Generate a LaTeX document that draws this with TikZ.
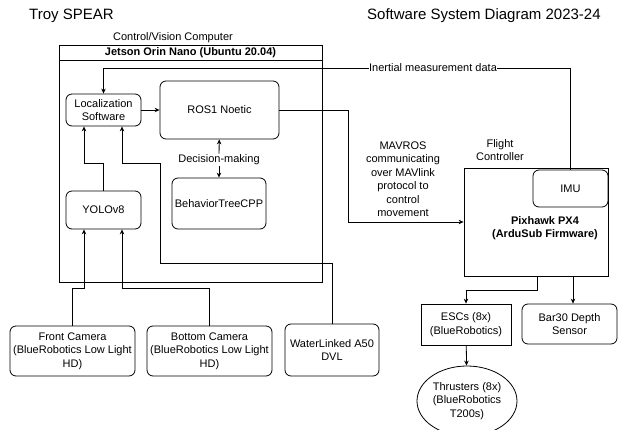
\documentclass[tikz,border=0pt]{standalone}
\usepackage{fontspec}
\setmainfont{Liberation Sans}
\usetikzlibrary{arrows.meta,shapes.geometric}
\tikzset{
  txt/.style={font=\fontsize{11}{13.5}\selectfont, align=center, inner sep=1pt},
  box/.style={txt, draw, line width=0.8pt, inner sep=0pt},
  roundbox/.style={box, rounded corners=6pt},
  arr/.style={-{Stealth[length=5pt,width=4.5pt]}, line width=0.8pt},
  wire/.style={line width=0.8pt}
}
\begin{document}
\begin{tikzpicture}[x=1pt,y=-1pt]
  \useasboundingbox (0,0) rectangle (618,430);

  \node[anchor=west, font=\fontsize{15}{18}\selectfont, inner sep=0pt] (troy) at (29,16) {Troy SPEAR};
  \node[anchor=west, font=\fontsize{15}{18}\selectfont, inner sep=0pt] (title) at (367,16) {Software System Diagram 2023-24};

  \node[txt] (cvc) at (173,38) {Control/Vision Computer};
  \node[box, minimum width=263, minimum height=237] (jetsonbox) at (190.5,163.5) {};
  \node[box, minimum width=263, minimum height=15, font=\fontsize{11}{13.5}\selectfont\bfseries] (jetson) at (190.5,52.5) {Jetson Orin Nano (Ubuntu 20.04)};

  \node[roundbox, minimum width=75, minimum height=32] (loc) at (103.5,110) {Localization\\Software};
  \node[roundbox, minimum width=119, minimum height=58] (ros) at (219.5,110) {ROS1 Noetic};
  \node[txt, fill=white] (decision) at (219,160) {Decision-making};
  \node[roundbox, minimum width=94, minimum height=51] (bt) at (219,203.5) {BehaviorTreeCPP};
  \node[roundbox, minimum width=75, minimum height=38] (yolo) at (103.5,210) {YOLOv8};

  \node[roundbox, minimum width=125, minimum height=50] (front) at (72.5,351) {Front Camera\\(BlueRobotics Low Light\\HD)};
  \node[roundbox, minimum width=125, minimum height=50] (bottom) at (209.5,351) {Bottom Camera\\(BlueRobotics Low Light\\HD)};
  \node[roundbox, minimum width=94, minimum height=52] (dvl) at (332,350) {WaterLinked A50\\DVL};

  \node[txt] (fc) at (500,150) {Flight\\Controller};
  \node[box, minimum width=144, minimum height=108] (px) at (536,222) {};
  \node[txt, font=\fontsize{11}{13.5}\selectfont\bfseries] (pxtext) at (545,228) {Pixhawk PX4\\(ArduSub Firmware)};
  \node[roundbox, minimum width=75, minimum height=37] (imu) at (570.5,188.5) {IMU};

  \node[box, minimum width=90, minimum height=41] (esc) at (466,324.5) {ESCs (8x)\\(BlueRobotics)};
  \node[roundbox, minimum width=95, minimum height=40] (bar) at (569.5,324) {Bar30 Depth\\Sensor};
  \node[box, ellipse, minimum width=100, minimum height=70] (thr) at (467,401) {Thrusters (8x)\\(BlueRobotics\\T200s)};

  \draw[arr] (loc) -- (ros);
  \draw[arr] (decision) -- (ros);
  \draw[arr] (decision) -- (bt);
  \draw[arr] (yolo.north) -- (103.5,163) -- (84,163) -- ([xshift=-19.5]loc.south);
  \draw[arr] (dvl.north) -- (332,263) -- (160,263) -- (160,163) -- (122,163) -- ([xshift=18.5]loc.south);
  \draw[arr] (front.north) -- (72.5,288) -- (84,288) -- ([xshift=-19.5]yolo.south);
  \draw[arr] (bottom.north) -- (209.5,288) -- (122,288) -- ([xshift=18.5]yolo.south);

  \draw[arr] (imu.north) -- (570.5,68) -- (103.5,68) -- (loc.north);
  \node[txt, fill=white, inner sep=0.5pt] (imulabel) at (433,68) {Inertial measurement data};

  \draw[arr] (ros.east) -- (348,110) -- (348,222) -- (px.west);
  \node[txt] (mavros) at (403,179) {MAVROS\\communicating\\over MAVlink\\protocol to\\control\\movement};

  \draw[arr] (537,276) -- (537,290) -- (466,290) -- (esc.north);
  \draw[arr] (573,276) -- ([xshift=3.5]bar.north);
  \draw[arr] (esc) -- (thr);
\end{tikzpicture}
\end{document}
